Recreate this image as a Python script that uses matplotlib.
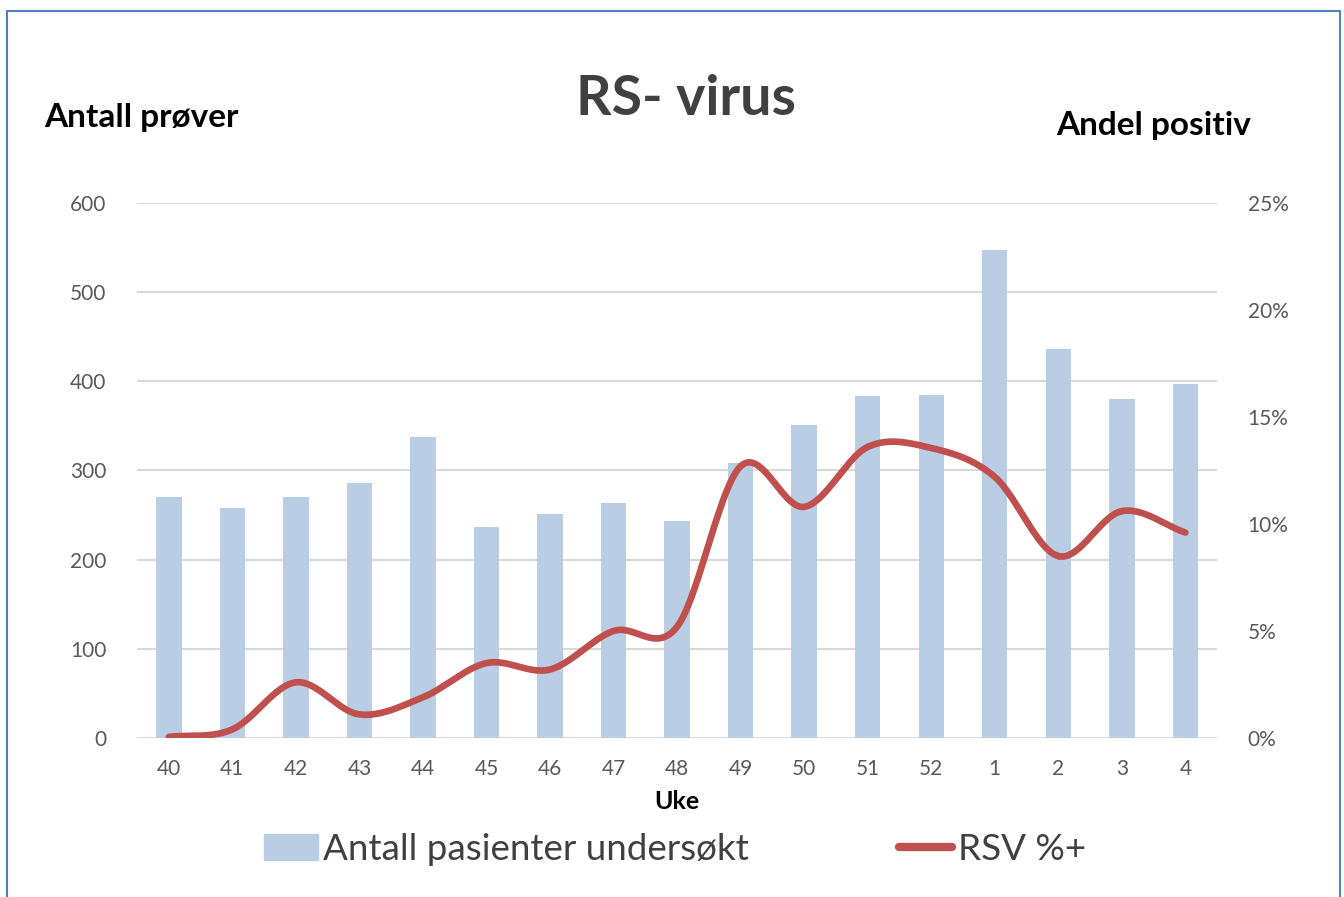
import numpy as np
import matplotlib.pyplot as plt
from matplotlib.lines import Line2D
from matplotlib.patches import Patch

plt.rcParams['font.family'] = ['Lato', 'DejaVu Sans']

uker = ['40', '41', '42', '43', '44', '45', '46', '47', '48', '49', '50',
        '51', '52', '1', '2', '3', '4']
antall = [270, 258, 270, 286, 338, 237, 251, 263, 243, 308, 351,
          384, 385, 547, 436, 380, 397]
rsv_pos = [0.05, 0.4, 2.6, 1.1, 1.9, 3.5, 3.2, 5.0, 5.2, 12.7, 10.8,
           13.6, 13.55, 12.2, 8.5, 10.6, 9.6]


def smooth(x, y, n=30):
    # catmull-rom, som Excel sin "glatt linje"
    x = np.asarray(x, float)
    y = np.asarray(y, float)
    px = np.concatenate([[2 * x[0] - x[1]], x, [2 * x[-1] - x[-2]]])
    py = np.concatenate([[2 * y[0] - y[1]], y, [2 * y[-1] - y[-2]]])
    xs, ys = [], []
    t = np.linspace(0, 1, n)
    for i in range(1, len(px) - 2):
        for p, out in ((px, xs), (py, ys)):
            p0, p1, p2, p3 = p[i - 1], p[i], p[i + 1], p[i + 2]
            out.extend(0.5 * (2 * p1 + (-p0 + p2) * t
                              + (2 * p0 - 5 * p1 + 4 * p2 - p3) * t ** 2
                              + (-p0 + 3 * p1 - 3 * p2 + p3) * t ** 3))
    return np.array(xs), np.array(ys)


fig = plt.figure(figsize=(13.44, 8.97), dpi=100)
ax = fig.add_axes([0.102, 0.1773, 0.8036, 0.5964])
ax2 = ax.twinx()

x = np.arange(len(uker))
ax.bar(x, antall, width=0.4, color='#B9CDE5', zorder=2)
ax.set_xlim(-0.5, len(uker) - 0.5)
ax.set_ylim(0, 600)
ax.set_yticks(range(0, 601, 100))
ax.grid(axis='y', color='#D9D9D9', lw=1.5, zorder=0)
ax.set_axisbelow(True)
ax.set_xticks(x)
ax.set_xticklabels(uker)
ax.tick_params(length=0, labelsize=15, labelcolor='#595959')
ax.tick_params(axis='y', pad=22)
ax.tick_params(axis='x', pad=15)
ax.set_xlabel('Uke', fontsize=18, fontweight='bold', labelpad=8)

sx, sy = smooth(x, rsv_pos)
ax2.plot(sx, sy, color='#C0504D', lw=4.8, solid_capstyle='round', zorder=3)
ax2.set_ylim(0, 25)
ax2.set_yticks(range(0, 26, 5))
ax2.set_yticklabels([f'{v}%' for v in range(0, 26, 5)])
ax2.tick_params(length=0, labelsize=15, labelcolor='#595959', pad=22)

for a in (ax, ax2):
    for s in a.spines.values():
        s.set_visible(False)

fig.text(686 / 1344, 1 - 99 / 897, 'RS- virus', fontsize=40, fontweight='bold',
         color='#404040', ha='center', va='center')
fig.text(44 / 1344, 1 - 118 / 897, 'Antall prøver', fontsize=24, fontweight='bold',
         ha='left', va='center')
fig.text(1251 / 1344, 1 - 126 / 897, 'Andel positiv', fontsize=24, fontweight='bold',
         ha='right', va='center')

handles = [Patch(color='#B9CDE5'),
           Line2D([0], [0], color='#C0504D', lw=6, solid_capstyle='round')]
fig.legend(handles, ['Antall pasienter undersøkt', 'RSV %+'], ncol=2,
           loc='center', bbox_to_anchor=(675 / 1344, 1 - 849 / 897), frameon=False,
           fontsize=26.5, labelcolor='#404040', handlelength=1.45,
           handletextpad=0.15, columnspacing=4.07)

# ramme rundt diagrammet
kx = [7 / 1344, 7 / 1344, 1340 / 1344, 1340 / 1344]
ky = [0, 1 - 11 / 897, 1 - 11 / 897, 0]
fig.add_artist(Line2D(kx, ky, color='#4F81BD', lw=1.5, transform=fig.transFigure))

fig.savefig('out.png', dpi=100)
